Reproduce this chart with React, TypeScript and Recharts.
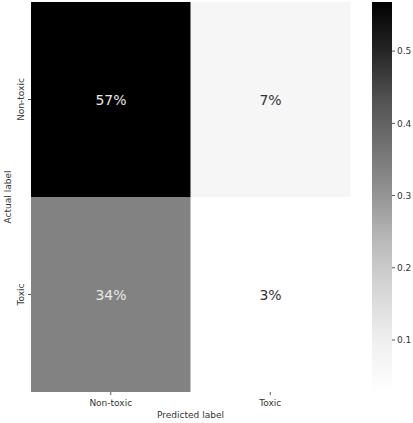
import React from 'react';
import { BarChart, Bar, XAxis, YAxis, Cell, LabelList, Label } from 'recharts';

// Confusion matrix (rows = actual, columns = predicted)
const predictedLabels = ['Non-toxic', 'Toxic'];
const actualLabels = ['Non-toxic', 'Toxic'];
const actualNonToxicRow = [0.568, 0.068];
const actualToxicRow = [0.336, 0.028];
const colorbarTicks = [0.1, 0.2, 0.3, 0.4, 0.5];

const allValues = [...actualNonToxicRow, ...actualToxicRow];
const vmin = Math.min(...allValues);
const vmax = Math.max(...allValues);

const GREYS = ['#ffffff', '#f0f0f0', '#d9d9d9', '#bdbdbd', '#969696', '#737373', '#525252', '#252525', '#000000'];

function hexToRgb(h: string) {
  return [parseInt(h.slice(1, 3), 16), parseInt(h.slice(3, 5), 16), parseInt(h.slice(5, 7), 16)];
}
function greys(v: number) {
  let t = (v - vmin) / (vmax - vmin);
  t = Math.max(0, Math.min(1, t));
  const p = t * (GREYS.length - 1);
  const i = Math.min(Math.floor(p), GREYS.length - 2);
  const f = p - i;
  const a = hexToRgb(GREYS[i]);
  const b = hexToRgb(GREYS[i + 1]);
  const c = a.map((x, k) => Math.round(x + (b[k] - x) * f));
  return `rgb(${c[0]},${c[1]},${c[2]})`;
}

const matrixData = predictedLabels.map((p, i) => ({
  pred: p,
  toxicRowUnit: 1,
  nonToxicRowUnit: 1,
  toxicRowVal: actualToxicRow[i],
  nonToxicRowVal: actualNonToxicRow[i],
}));

const colorbarData = [{ name: 'cb', range: [vmin, vmax] }];

const FONT = '"DejaVu Sans", sans-serif';
const TEXT = '#333333';

const AnnotLabel = (props: any) => {
  const { x, y, width, height, value } = props;
  const dark = (value - vmin) / (vmax - vmin) > 0.5;
  return (
    <text
      x={x + width / 2}
      y={y + height / 2}
      textAnchor="middle"
      dominantBaseline="central"
      fontSize={14}
      fontFamily={FONT}
      fill={dark ? '#e8e8e8' : '#333333'}
    >
      {`${Math.round(value * 100)}%`}
    </text>
  );
};

const YTick = (props: any) => {
  const { x, y, payload } = props;
  const label = payload.value > 1 ? actualLabels[0] : actualLabels[1];
  const cx = x - 5;
  return (
    <text
      x={cx}
      y={y}
      transform={`rotate(-90, ${cx}, ${y})`}
      textAnchor="middle"
      dominantBaseline="central"
      fontSize={9}
      fontFamily={FONT}
      fill={TEXT}
    >
      {label}
    </text>
  );
};

const XTick = (props: any) => {
  const { x, y, payload } = props;
  return (
    <text x={x} y={y + 9} textAnchor="middle" fontSize={9} fontFamily={FONT} fill={TEXT}>
      {payload.value}
    </text>
  );
};

export default function App() {
  return (
    <div style={{ position: 'absolute', left: 0, top: 0, width: 413, height: 423, background: '#fff' }}>
      <div style={{ position: 'absolute', left: 0, top: 0 }}>
        <BarChart
          width={360}
          height={423}
          data={matrixData}
          margin={{ top: 2, right: 10, bottom: 0, left: 0 }}
          barCategoryGap={0}
          barGap={0}
        >
          <XAxis
            dataKey="pred"
            height={31}
            tickSize={3}
            tickLine={{ stroke: '#555' }}
            axisLine={false}
            tick={<XTick />}
            interval={0}
          >
            <Label
              value="Predicted label"
              position="insideBottom"
              offset={5}
              style={{ fontSize: 9, fontFamily: FONT, fill: TEXT }}
            />
          </XAxis>
          <YAxis
            type="number"
            domain={[0, 2]}
            ticks={[0.5, 1.5]}
            width={31}
            tickSize={3}
            tickLine={{ stroke: '#555' }}
            axisLine={false}
            tick={<YTick />}
          >
            <Label
              content={(p: any) => {
                const vb = p.viewBox || {};
                const cx = 8;
                const cy = vb.y + vb.height / 2;
                return (
                  <text
                    x={cx}
                    y={cy}
                    transform={`rotate(-90, ${cx}, ${cy})`}
                    textAnchor="middle"
                    dominantBaseline="central"
                    fontSize={9}
                    fontFamily={FONT}
                    fill={TEXT}
                  >
                    Actual label
                  </text>
                );
              }}
            />
          </YAxis>
          <Bar dataKey="toxicRowUnit" stackId="m" isAnimationActive={false}>
            {matrixData.map((d, i) => (
              <Cell key={`t${i}`} fill={greys(d.toxicRowVal)} />
            ))}
            <LabelList dataKey="toxicRowVal" content={<AnnotLabel />} />
          </Bar>
          <Bar dataKey="nonToxicRowUnit" stackId="m" isAnimationActive={false}>
            {matrixData.map((d, i) => (
              <Cell key={`n${i}`} fill={greys(d.nonToxicRowVal)} />
            ))}
            <LabelList dataKey="nonToxicRowVal" content={<AnnotLabel />} />
          </Bar>
        </BarChart>
      </div>
      <div style={{ position: 'absolute', left: 360, top: 0 }}>
        <BarChart
          width={53}
          height={423}
          data={colorbarData}
          margin={{ top: 2, right: 0, bottom: 31, left: 12 }}
          barCategoryGap={0}
        >
          <defs>
            <linearGradient id="greysGrad" x1="0" y1="0" x2="0" y2="1">
              {GREYS.slice().reverse().map((c, i) => (
                <stop key={i} offset={`${(i / (GREYS.length - 1)) * 100}%`} stopColor={c} />
              ))}
            </linearGradient>
          </defs>
          <XAxis dataKey="name" hide />
          <YAxis
            orientation="right"
            type="number"
            domain={[vmin, vmax]}
            allowDataOverflow
            ticks={colorbarTicks}
            width={21}
            tickSize={3}
            tickLine={{ stroke: '#555' }}
            axisLine={false}
            tick={{ fontSize: 9, fontFamily: FONT, fill: TEXT }}
            tickFormatter={(v: number) => v.toFixed(1)}
          />
          <Bar dataKey="range" fill="url(#greysGrad)" isAnimationActive={false} />
        </BarChart>
      </div>
    </div>
  );
}
